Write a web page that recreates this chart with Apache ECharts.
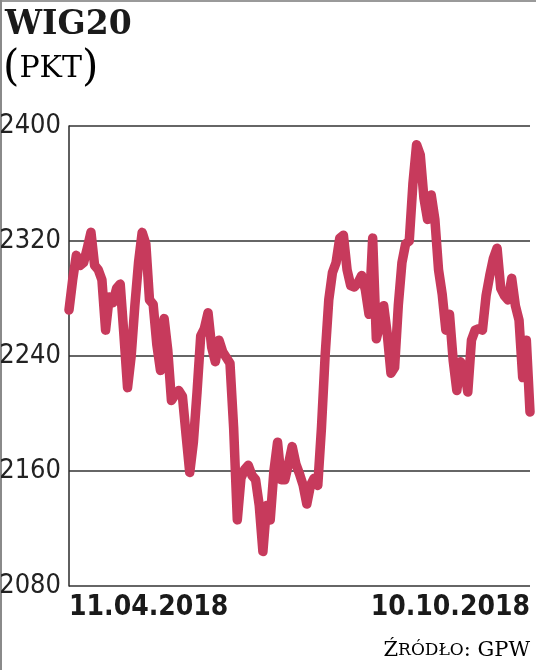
<!DOCTYPE html>
<html>
<head>
<meta charset="utf-8">
<title>WIG20</title>
<script src="https://cdn.jsdelivr.net/npm/echarts@6/dist/echarts.min.js"></script>
<style>
    html, body {
        margin: 0;
        padding: 0;
        background: #fff;
    }

    #chart {
        width: 536px;
        height: 670px;
    }
</style>
</head>
<body>
<div id="chart"></div>
<script>
    // WIG20 daily close, 11.04.2018 - 10.10.2018
    const wig20 = [
        2272, 2293, 2310, 2303, 2305, 2315, 2326, 2303, 2300, 2293,
        2258, 2281, 2277, 2287, 2290, 2255, 2218, 2240, 2275, 2305,
        2326, 2318, 2279, 2276, 2248, 2230, 2266, 2244, 2209, 2213,
        2216, 2212, 2185, 2159, 2180, 2215, 2254, 2259, 2270, 2246,
        2236, 2251, 2243, 2239, 2235, 2190, 2126, 2155, 2161, 2164,
        2157, 2154, 2136, 2104, 2136, 2126, 2160, 2180, 2154, 2154,
        2165, 2177, 2165, 2158, 2150, 2137, 2150, 2155, 2150, 2190,
        2240, 2279, 2298, 2305, 2322, 2324, 2300, 2289, 2288, 2291,
        2296, 2286, 2269, 2322, 2252, 2262, 2275, 2255, 2228, 2232,
        2275, 2305, 2318, 2320, 2360, 2387, 2380, 2350, 2335, 2352,
        2335, 2300, 2283, 2258, 2269, 2237, 2216, 2236, 2232, 2215,
        2251, 2258, 2259, 2258, 2282, 2296, 2308, 2315, 2287, 2282,
        2279, 2294, 2275, 2265, 2225, 2251, 2201
    ]
    const dateLabels = ['11.04.2018', '10.10.2018']
    const yTicks = [2080, 2160, 2240, 2320, 2400]

    const days = wig20.map((v, i) => i)
    const last = wig20.length - 1

    const narrow = "'Liberation Sans Narrow', 'DejaVu Sans Condensed', 'Roboto', sans-serif"
    const serif = "'DejaVu Serif', 'Liberation Serif', serif"

    const chart = echarts.init(document.getElementById('chart'), null, {renderer: 'canvas'})

    const option = {
        animation: false,
        backgroundColor: '#fff',
        grid: {
            left: 69,
            right: 6,
            top: 126,
            bottom: 84,
            containLabel: false,
            outerBoundsMode: 'none'
        },
        xAxis: {
            type: 'category',
            data: days,
            boundaryGap: false,
            axisLine: {show: false},
            axisTick: {show: false},
            axisLabel: {
                interval: (i) => i === 0 || i === last,
                formatter: (v, i) => (i === 0 ? dateLabels[0] : dateLabels[1]),
                alignMinLabel: 'left',
                alignMaxLabel: 'right',
                margin: 8,
                color: '#1a1a1a',
                fontFamily: narrow,
                fontWeight: 'bold',
                fontSize: 28
            }
        },
        yAxis: {
            type: 'value',
            min: yTicks[0],
            max: yTicks[yTicks.length - 1],
            interval: 80,
            axisLine: {show: true, lineStyle: {color: '#2a2a2a', width: 1.5}},
            axisTick: {show: false},
            splitLine: {lineStyle: {color: '#333', width: 1.5}},
            axisLabel: {
                margin: 8,
                color: '#222',
                fontFamily: narrow,
                fontSize: 27,
                formatter: (v) => String(v)
            }
        },
        series: [{
            type: 'line',
            data: wig20,
            symbol: 'none',
            lineStyle: {
                color: '#c73a5c',
                width: 9.5,
                cap: 'round',
                join: 'round'
            }
        }],
        graphic: [
            {type: 'rect', shape: {x: 0, y: 0, width: 536, height: 2}, style: {fill: '#9a9a9a'}},
            {type: 'rect', shape: {x: 0, y: 0, width: 2, height: 670}, style: {fill: '#8a8a8a'}},
            {
                type: 'text', left: 5, top: 9,
                style: {text: 'WIG20', font: 'bold 33px ' + serif, fill: '#1a1a1a'}
            },
            {
                type: 'text', left: 3, top: 48,
                style: {
                    text: '{p|(}{t|PKT}{p|)}',
                    rich: {
                        p: {fontFamily: serif, fontSize: 42, color: '#1a1a1a'},
                        t: {fontFamily: serif, fontSize: 30, color: '#1a1a1a'}
                    }
                }
            },
            {
                type: 'text', right: 6, top: 640,
                style: {
                    text: '{b|Ź}{s|RÓDŁO}{b|: GPW}',
                    rich: {
                        b: {fontFamily: serif, fontSize: 21, color: '#222'},
                        s: {fontFamily: serif, fontSize: 17, color: '#222'}
                    }
                }
            }
        ]
    }

    chart.setOption(option)
</script>
</body>
</html>
